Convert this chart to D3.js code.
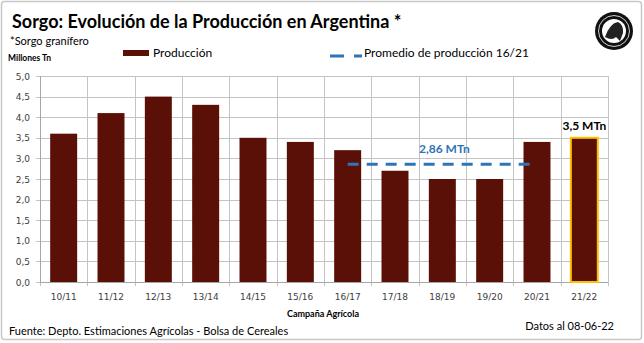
<!DOCTYPE html>
<html><head><meta charset="utf-8">
<script src="https://cdn.jsdelivr.net/npm/d3@7"></script>
<style>body{margin:0;background:#fff}svg{display:block}</style>
</head><body>
<svg id="c" width="644" height="343"></svg>
<script>
const categories = ["10/11","11/12","12/13","13/14","14/15","15/16","16/17","17/18","18/19","19/20","20/21","21/22"];
const produccion = [3.6, 4.1, 4.5, 4.3, 3.5, 3.4, 3.2, 2.7, 2.5, 2.5, 3.4, 3.5];
const promedioCats = ["16/17","17/18","18/19","19/20","20/21"];
const promedioValue = 2.86;
const yTicks = [0,0.5,1,1.5,2,2.5,3,3.5,4,4.5,5];

const svg = d3.select("#c");
const margin = {left:40, right:36, top:76, bottom:61};
const W = 644, H = 343;
const x = d3.scaleBand().domain(categories).range([margin.left, W - margin.right]).paddingInner(0.43).paddingOuter(0.215);
const xb = d3.scaleBand().domain(categories).range([margin.left, W - margin.right]);
const y = d3.scaleLinear().domain([0,5]).range([H - margin.bottom, margin.top]);

// outer border
svg.append("rect").attr("x",1.5).attr("y",1.5).attr("width",640).attr("height",338).attr("rx",3)
  .attr("fill","#fff").attr("stroke","#c8c8c8").attr("stroke-width",1.5);

// gridlines horizontal
svg.append("g").selectAll("line").data(yTicks).join("line")
  .attr("x1", margin.left - 4).attr("x2", W - margin.right)
  .attr("y1", d => Math.round(y(d)) + 0.5).attr("y2", d => Math.round(y(d)) + 0.5)
  .attr("stroke", "#c4c4c4").attr("stroke-width", 1);
// gridlines vertical
const vb = categories.map(c => xb(c)).concat([W - margin.right]);
svg.append("g").selectAll("line").data(vb).join("line")
  .attr("x1", d => Math.round(d) + 0.5).attr("x2", d => Math.round(d) + 0.5)
  .attr("y1", margin.top).attr("y2", H - margin.bottom + 4)
  .attr("stroke", "#c4c4c4").attr("stroke-width", 1);
// axis baseline
svg.append("line").attr("x1", margin.left).attr("x2", W - margin.right)
  .attr("y1", Math.round(y(0)) + 0.5).attr("y2", Math.round(y(0)) + 0.5).attr("stroke","#a6a6a6");
svg.append("line").attr("x1", margin.left + 0.5).attr("x2", margin.left + 0.5)
  .attr("y1", margin.top).attr("y2", y(0)).attr("stroke","#a6a6a6");

// y tick labels
svg.append("g").selectAll("text").data(yTicks).join("text")
  .attr("x", 30).attr("y", d => y(d) + 3.5).attr("text-anchor","end")
  .attr("font-family","DejaVu Sans, Verdana, sans-serif").attr("font-size",9).attr("fill","#404040")
  .text(d => d3.format(".1f")(d).replace(".", ","));
// x tick labels
svg.append("g").selectAll("text").data(categories).join("text")
  .attr("x", d => xb(d) + xb.bandwidth()/2).attr("y", 300).attr("text-anchor","middle")
  .attr("font-family","DejaVu Sans, Verdana, sans-serif").attr("font-size",9).attr("fill","#404040")
  .text(d => d);

// bars
svg.append("g").selectAll("rect").data(categories).join("rect")
  .attr("x", d => x(d)).attr("width", x.bandwidth())
  .attr("y", (d,i) => y(produccion[i])).attr("height", (d,i) => y(0) - y(produccion[i]))
  .attr("fill", "#5a1006")
  .attr("stroke", (d,i) => i === categories.length - 1 ? "#ffc000" : "none")
  .attr("stroke-width", 2);

// promedio dashed line
const px1 = xb(promedioCats[0]) + xb.bandwidth()/2;
const px2 = xb(promedioCats[promedioCats.length-1]) + xb.bandwidth()/2;
svg.append("line").attr("x1", px1).attr("x2", px2)
  .attr("y1", y(promedioValue)).attr("y2", y(promedioValue))
  .attr("stroke", "#2e75b6").attr("stroke-width", 3).attr("stroke-dasharray","11,8");

const FONT = "Lato, 'Open Sans', sans-serif";
// labels
svg.append("text").attr("x", (px1+px2)/2 + 2).attr("y", y(promedioValue) - 11).attr("text-anchor","middle")
  .attr("font-family", FONT).attr("font-weight","bold").attr("font-size",12).attr("fill","#2e75b6")
  .text(d3.format(".2f")(promedioValue).replace(".", ",") + " MTn");
const last = categories[categories.length-1];
svg.append("text").attr("x", xb(last) + xb.bandwidth()/2).attr("y", y(produccion[produccion.length-1]) - 8).attr("text-anchor","middle")
  .attr("font-family", FONT).attr("font-weight","bold").attr("font-size",12).attr("fill","#000")
  .text(d3.format(".1f")(produccion[produccion.length-1]).replace(".", ",") + " MTn");

// title & subtitles
svg.append("text").attr("x", 12).attr("y", 28).attr("font-family", FONT).attr("font-weight","bold")
  .attr("font-size", 18).attr("fill","#000").text("Sorgo: Evolución de la Producción en Argentina *");
svg.append("text").attr("x", 10).attr("y", 45).attr("font-family", FONT)
  .attr("font-size", 11).attr("fill","#000").text("*Sorgo granífero");
svg.append("text").attr("x", 8).attr("y", 61).attr("font-family", FONT).attr("font-weight","bold")
  .attr("font-size", 8.5).attr("fill","#000").text("Millones Tn");

// legend
svg.append("rect").attr("x", 123).attr("y", 50).attr("width", 26).attr("height", 6).attr("fill","#5a1006");
svg.append("text").attr("x", 153).attr("y", 57).attr("font-family", FONT)
  .attr("font-size", 12).attr("fill","#000").text("Producción");
svg.append("line").attr("x1", 330).attr("x2", 362).attr("y1", 56).attr("y2", 56)
  .attr("stroke","#2e75b6").attr("stroke-width",3).attr("stroke-dasharray","14,10,8");
svg.append("text").attr("x", 364).attr("y", 57).attr("font-family", FONT)
  .attr("font-size", 12).attr("fill","#000").text("Promedio de producción 16/21");

// axis title & footer
svg.append("text").attr("x", 323).attr("y", 317).attr("text-anchor","middle").attr("font-family", FONT)
  .attr("font-weight","bold").attr("font-size", 9).attr("fill","#000").text("Campaña  Agrícola");
svg.append("text").attr("x", 9).attr("y", 335).attr("font-family", FONT)
  .attr("font-size", 11).attr("fill","#000").text("Fuente: Depto. Estimaciones Agrícolas - Bolsa de Cereales");
svg.append("text").attr("x", 614).attr("y", 330).attr("text-anchor","end").attr("font-family", FONT)
  .attr("font-size", 11).attr("fill","#000").text("Datos al 08-06-22");

// logo (simple emblem)
const lg = svg.append("g").attr("transform","translate(614,31)");
lg.append("circle").attr("r", 19).attr("fill","#111");
lg.append("circle").attr("r", 15.5).attr("fill","none").attr("stroke","#fff").attr("stroke-width",0.8);
lg.append("circle").attr("r", 12).attr("fill","#fff");
lg.append("path").attr("d","M-9,6 Q-4,-8 4,-9 Q10,-6 9,2 L6,10 L2,6 Q-2,10 -9,6Z").attr("fill","#222");
</script>
</body></html>
